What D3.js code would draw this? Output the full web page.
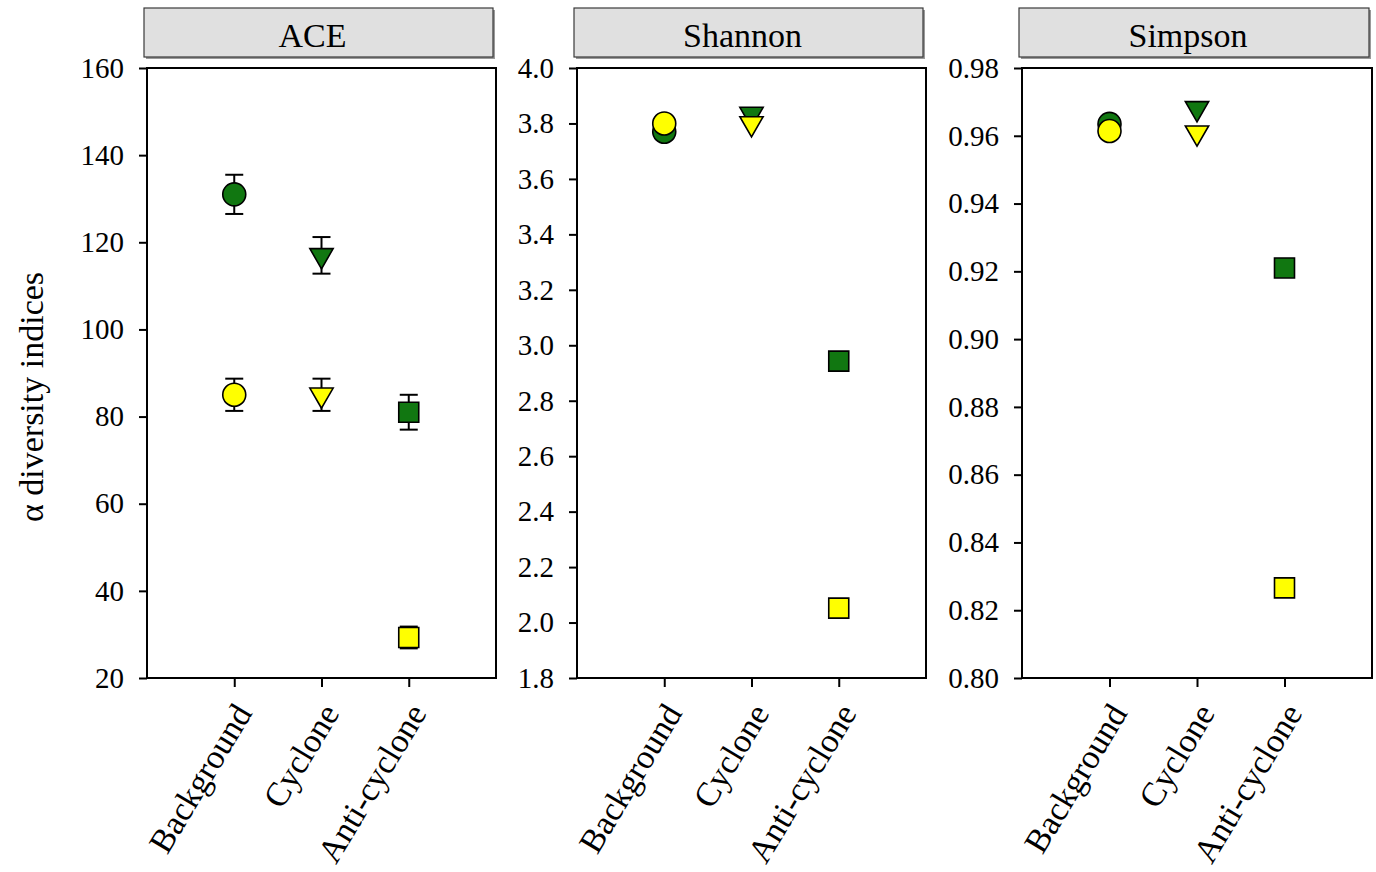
<!DOCTYPE html>
<html>
<head>
<meta charset="utf-8">
<script src="https://cdn.jsdelivr.net/npm/d3@7"></script>
<style>
  html, body { margin: 0; padding: 0; background: #fff; }
  svg { display: block; font-family: 'Liberation Serif', 'Times New Roman', serif; }
</style>
</head>
<body>
<svg id="chart" width="1376" height="872"></svg>
<script>
// === Alpha diversity panels ===

const categories = ['Background', 'Cyclone', 'Anti-cyclone'];
const panelTitles = ['ACE', 'Shannon', 'Simpson'];
const shapes = ['circle', 'triangle', 'square'];

// ACE (with error bars)
const aceGreen = [131, 117, 81];
const aceGreenErr = [4.5, 4.2, 4.0];
const aceYellow = [85, 85, 29.3];
const aceYellowErr = [3.7, 3.7, 2.5];

// Shannon
const shannonGreen = [3.77, 3.834, 2.943];
const shannonYellow = [3.80, 3.80, 2.052];

// Simpson
const simpsonGreen = [0.9635, 0.9681, 0.921];
const simpsonYellow = [0.9614, 0.9609, 0.8266];

const aceTicks = [20, 40, 60, 80, 100, 120, 140, 160];
const shannonTicks = [1.8, 2.0, 2.2, 2.4, 2.6, 2.8, 3.0, 3.2, 3.4, 3.6, 3.8, 4.0];
const simpsonTicks = [0.80, 0.82, 0.84, 0.86, 0.88, 0.90, 0.92, 0.94, 0.96, 0.98];

const GREEN = '#117711';
const YELLOW = '#ffff00';
const PLOT_TOP = 68;
const PLOT_BOTTOM = 678;

const panels = [
  { title: panelTitles[0], x0: 147, x1: 496, ticks: aceTicks, fmt: d3.format('d'),
    green: aceGreen, greenErr: aceGreenErr, yellow: aceYellow, yellowErr: aceYellowErr },
  { title: panelTitles[1], x0: 577, x1: 926, ticks: shannonTicks, fmt: d3.format('.1f'),
    green: shannonGreen, greenErr: null, yellow: shannonYellow, yellowErr: null },
  { title: panelTitles[2], x0: 1022, x1: 1372, ticks: simpsonTicks, fmt: d3.format('.2f'),
    green: simpsonGreen, greenErr: null, yellow: simpsonYellow, yellowErr: null }
];

const svg = d3.select('#chart');

function symbolPath(shape) {
  if (shape === 'circle') return d3.symbol(d3.symbolCircle, Math.PI * 11.5 * 11.5)();
  if (shape === 'square') return d3.symbol(d3.symbolSquare, 400)();
  return d3.symbol(d3.symbolTriangle, 235)();
}

for (const p of panels) {
  const g = svg.append('g');

  const x = d3.scalePoint().domain(categories).range([p.x0, p.x1]).padding(1);
  const y = d3.scaleLinear()
    .domain([p.ticks[0], p.ticks[p.ticks.length - 1]])
    .range([PLOT_BOTTOM, PLOT_TOP]);

  // Strip header
  g.append('rect')
    .attr('x', p.x0 - 1).attr('y', 10)
    .attr('width', p.x1 - p.x0).attr('height', 49)
    .attr('fill', '#9a9a9a');
  g.append('rect')
    .attr('x', p.x0 - 3).attr('y', 8)
    .attr('width', p.x1 - p.x0).attr('height', 49)
    .attr('fill', '#e0e0e0')
    .attr('stroke', '#3a3a3a')
    .attr('stroke-width', 1.2);
  g.append('text')
    .attr('x', (p.x0 + p.x1) / 2 - 9).attr('y', 47)
    .attr('text-anchor', 'middle')
    .attr('font-size', '34px')
    .attr('fill', '#000')
    .text(p.title);

  // Frame
  g.append('rect')
    .attr('x', p.x0).attr('y', PLOT_TOP)
    .attr('width', p.x1 - p.x0).attr('height', PLOT_BOTTOM - PLOT_TOP)
    .attr('fill', 'none')
    .attr('stroke', '#000')
    .attr('stroke-width', 2);

  // Y axis
  const yAxis = g.append('g')
    .attr('transform', `translate(${p.x0},0)`)
    .call(d3.axisLeft(y).tickValues(p.ticks).tickFormat(p.fmt).tickSize(8).tickSizeOuter(0).tickPadding(15));
  yAxis.select('.domain').remove();
  yAxis.selectAll('.tick line').attr('stroke', '#000').attr('stroke-width', 2);
  yAxis.selectAll('text')
    .attr('font-family', "'Liberation Serif', serif")
    .attr('font-size', '29px')
    .attr('fill', '#000');

  // X axis
  const xAxis = g.append('g')
    .attr('transform', `translate(0,${PLOT_BOTTOM})`)
    .call(d3.axisBottom(x).tickSize(9).tickSizeOuter(0));
  xAxis.select('.domain').remove();
  xAxis.selectAll('.tick line').attr('stroke', '#000').attr('stroke-width', 2);
  xAxis.selectAll('text')
    .attr('font-family', "'Liberation Serif', serif")
    .attr('font-size', '34px')
    .attr('fill', '#000')
    .attr('text-anchor', 'end')
    .attr('dy', '0.35em')
    .attr('transform', 'translate(8,29) rotate(-59)')
    .attr('y', 0).attr('x', 0);

  // Points: green series first, yellow on top
  const series = [
    { vals: p.green, err: p.greenErr, color: GREEN },
    { vals: p.yellow, err: p.yellowErr, color: YELLOW }
  ];

  for (const s of series) {
    categories.forEach((cat, i) => {
      const cx = x(cat);
      const cy = y(s.vals[i]);

      if (s.err) {
        const hi = y(s.vals[i] + s.err[i]);
        const lo = y(s.vals[i] - s.err[i]);
        g.append('line')
          .attr('x1', cx).attr('x2', cx).attr('y1', hi).attr('y2', lo)
          .attr('stroke', '#000').attr('stroke-width', 2);
        for (const yy of [hi, lo]) {
          g.append('line')
            .attr('x1', cx - 9).attr('x2', cx + 9).attr('y1', yy).attr('y2', yy)
            .attr('stroke', '#000').attr('stroke-width', 2);
        }
      }

      const shape = shapes[i];
      const rot = shape === 'triangle' ? ' rotate(180)' : '';
      g.append('path')
        .attr('d', symbolPath(shape))
        .attr('transform', `translate(${cx},${cy})${rot}`)
        .attr('fill', s.color)
        .attr('stroke', '#000')
        .attr('stroke-width', 1.6);
    });
  }
}

// Y axis title
svg.append('text')
  .attr('transform', 'translate(43,397) rotate(-90)')
  .attr('text-anchor', 'middle')
  .attr('font-size', '34px')
  .attr('fill', '#000')
  .text('α diversity indices');
</script>
</body>
</html>
